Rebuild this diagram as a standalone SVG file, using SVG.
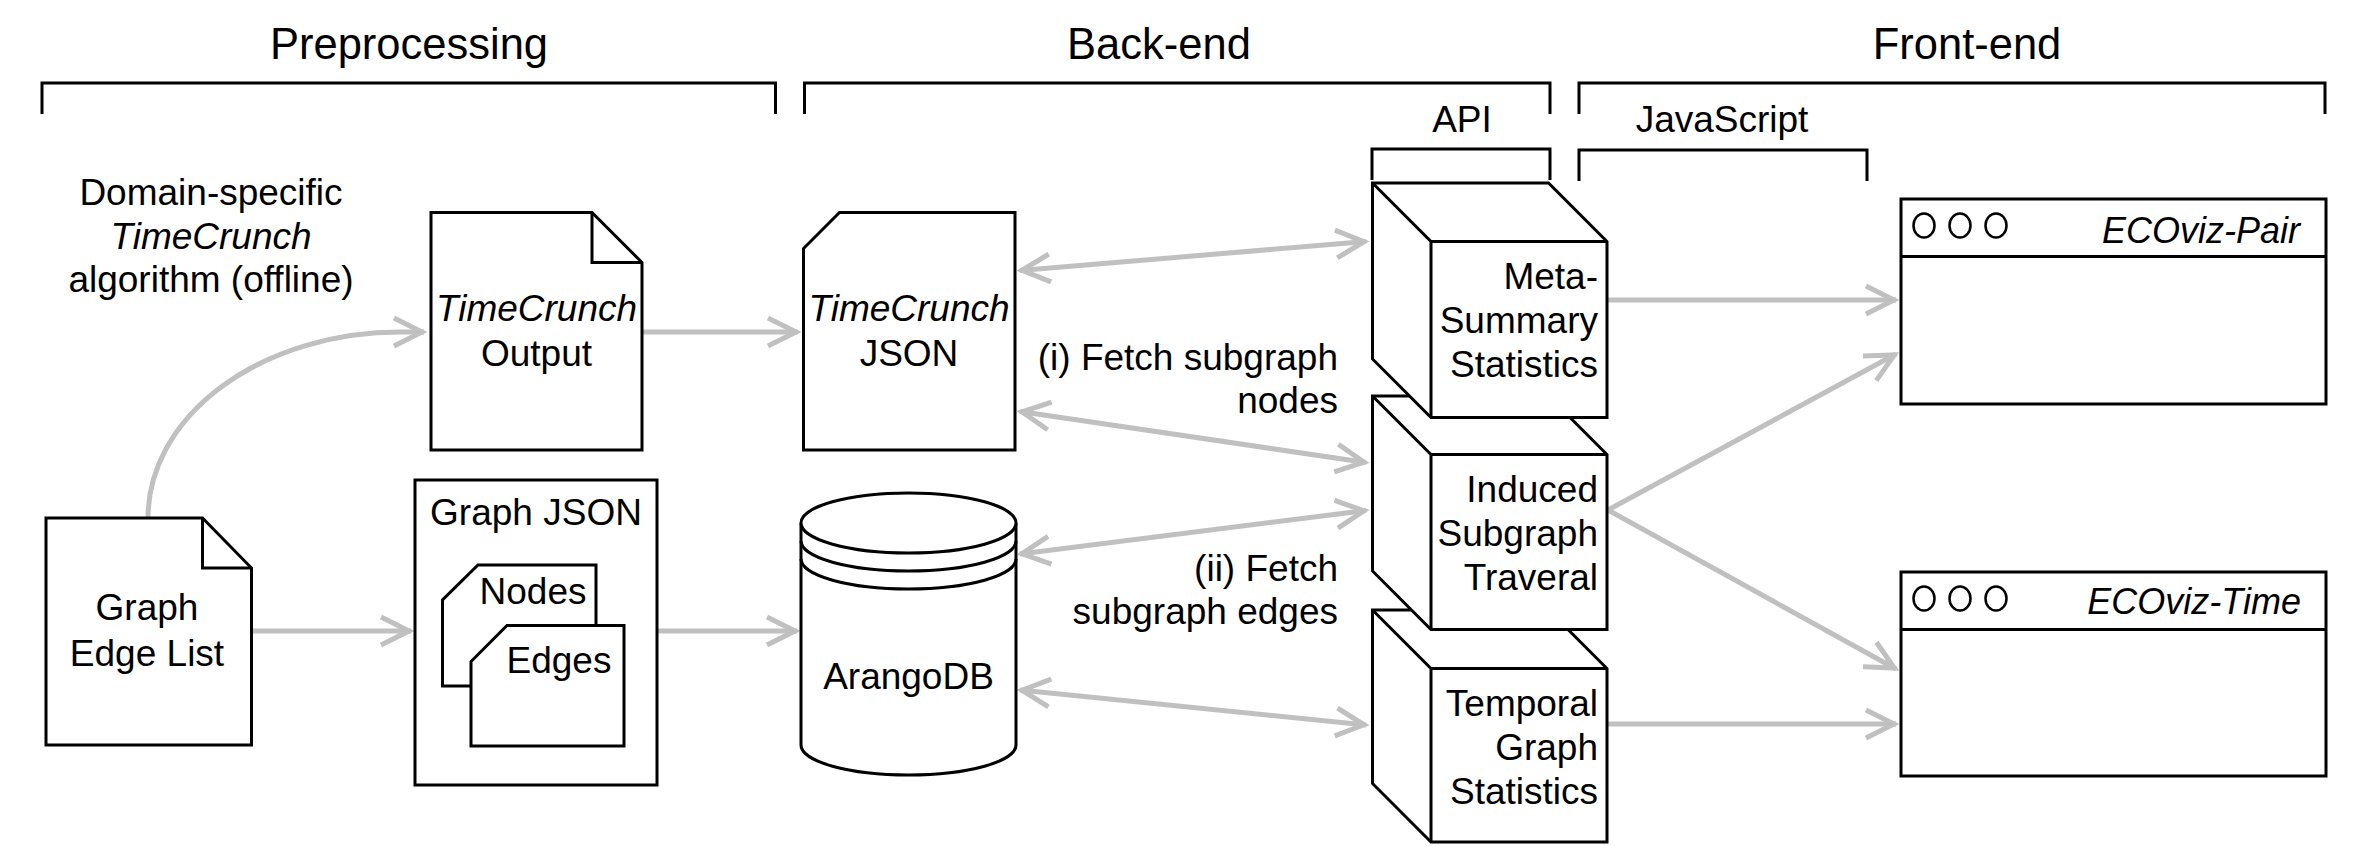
<svg xmlns="http://www.w3.org/2000/svg" width="2365" height="846" viewBox="0 0 2365 846">
<defs>
<style>
.t{font-family:"Liberation Sans",Arial,Helvetica,sans-serif;font-size:37px;fill:#000}
.h{font-size:43.5px}
.i{font-style:italic}
.m{text-anchor:middle}
.e{text-anchor:end}
.n{fill:#fff;stroke:#000;stroke-width:3;stroke-linejoin:miter}
.ln{fill:none;stroke:#000;stroke-width:3}
.dot{fill:none;stroke:#000;stroke-width:2.5}
.br{fill:none;stroke:#000;stroke-width:3}
.c{fill:none;stroke:#c0c0c0;stroke-width:5}
</style>
<marker id="ah" markerUnits="userSpaceOnUse" viewBox="-40 -20 44 40" markerWidth="44" markerHeight="40" refX="0" refY="0" orient="auto-start-reverse" overflow="visible">
<path d="M-30,-14 L-2,0 L-30,14" fill="none" stroke="#c0c0c0" stroke-width="5"/>
</marker>
</defs>
<rect x="0" y="0" width="2365" height="846" fill="#fff"/>

<!-- section brackets -->
<g id="sections">
<path class="br" d="M42,114 V83 H775.5 V114"/>
<path class="br" d="M804.5,114 V83 H1550 V114"/>
<path class="br" d="M1579,114 V83 H2325 V114"/>
<path class="br" d="M1372,180 V149 H1550 V180"/>
<path class="br" d="M1579,181 V150 H1867 V181"/>
<text class="t h m" x="409" y="59">Preprocessing</text>
<text class="t h m" x="1159" y="59">Back-end</text>
<text class="t h m" x="1967" y="59">Front-end</text>
<text class="t m" x="1462" y="131.5">API</text>
<text class="t m" x="1722" y="131.5">JavaScript</text>
</g>

<!-- connectors -->
<g id="connectors">
<path class="c" d="M148,518 A252,186 0 0 1 400,332 L424,332" marker-end="url(#ah)"/>
<line class="c" x1="642" y1="332" x2="798" y2="332" marker-end="url(#ah)"/>
<line class="c" x1="252" y1="631" x2="411" y2="631" marker-end="url(#ah)"/>
<line class="c" x1="657" y1="631" x2="797" y2="631" marker-end="url(#ah)"/>
<line class="c" x1="1020" y1="270.5" x2="1366" y2="241.5" marker-start="url(#ah)" marker-end="url(#ah)"/>
<line class="c" x1="1020" y1="411.5" x2="1366" y2="462.5" marker-start="url(#ah)" marker-end="url(#ah)"/>
<line class="c" x1="1020" y1="554" x2="1366" y2="510.5" marker-start="url(#ah)" marker-end="url(#ah)"/>
<line class="c" x1="1020" y1="690" x2="1366" y2="725" marker-start="url(#ah)" marker-end="url(#ah)"/>
<line class="c" x1="1608" y1="300" x2="1896" y2="300" marker-end="url(#ah)"/>
<line class="c" x1="1608" y1="510" x2="1896" y2="354" marker-end="url(#ah)"/>
<line class="c" x1="1608" y1="510" x2="1896" y2="669" marker-end="url(#ah)"/>
<line class="c" x1="1608" y1="724" x2="1896" y2="724" marker-end="url(#ah)"/>
</g>

<!-- offline algorithm caption -->
<g id="algorithm">
<text class="t m" x="211" y="205">Domain-specific</text>
<text class="t m i" x="211" y="249">TimeCrunch</text>
<text class="t m" x="211" y="292">algorithm (offline)</text>
</g>

<g id="edge-list">
<path class="n" d="M46,518 H202.5 L251.5,568 V745 H46 Z"/>
<path class="ln" d="M202.5,518 V568 H251.5"/>
<text class="t m" x="147" y="620">Graph</text>
<text class="t m" x="147" y="665.5">Edge List</text>
</g>

<g id="tc-output">
<path class="n" d="M431,212.5 H592 L642,262.5 V450 H431 Z"/>
<path class="ln" d="M592,212.5 V262.5 H642"/>
<text class="t m i" x="536.5" y="321">TimeCrunch</text>
<text class="t m" x="536.5" y="366">Output</text>
</g>

<g id="graph-json">
<rect class="n" x="415" y="480" width="242" height="305"/>
<text class="t m" x="536" y="524.5">Graph JSON</text>
<path class="n" d="M478,565 H596 V686 H442.5 V600 Z"/>
<text class="t m" x="533" y="604">Nodes</text>
<path class="n" d="M507,625.5 H624 V746 H471 V661.5 Z"/>
<text class="t m" x="559" y="673">Edges</text>
</g>

<g id="tc-json">
<path class="n" d="M839.5,212.5 H1015 V450 H803.5 V248.5 Z"/>
<text class="t m i" x="909" y="321">TimeCrunch</text>
<text class="t m" x="909" y="366">JSON</text>
</g>

<g id="arangodb">
<path class="n" d="M801,523 V745 A107.5,30 0 0 0 1016,745 V523"/>
<ellipse class="n" cx="908.5" cy="523" rx="107.5" ry="30"/>
<path class="ln" d="M801,541 A107.5,30 0 0 0 1016,541 M801,559 A107.5,30 0 0 0 1016,559"/>
<text class="t m" x="908.5" y="689">ArangoDB</text>
</g>

<g id="fetch-labels">
<text class="t e" x="1338" y="369.5">(i) Fetch subgraph</text>
<text class="t e" x="1338" y="413">nodes</text>
<text class="t e" x="1338" y="581">(ii) Fetch</text>
<text class="t e" x="1338" y="624">subgraph edges</text>
</g>

<g id="temporal-stats">
<path class="n" d="M1372.5,610 H1548.5 L1607,668.5 V842 H1431 L1372.5,783.5 Z"/>
<path class="ln" d="M1372.5,610 L1431,668.5 H1607 M1431,668.5 V842"/>
<text class="t e" x="1598" y="715.5">Temporal</text>
<text class="t e" x="1598" y="759.5">Graph</text>
<text class="t e" x="1598" y="803.5">Statistics</text>
</g>

<g id="induced-subgraph">
<path class="n" d="M1372.5,396 H1548.5 L1607,454.5 V629.5 H1431 L1372.5,571 Z"/>
<path class="ln" d="M1372.5,396 L1431,454.5 H1607 M1431,454.5 V629.5"/>
<text class="t e" x="1598" y="501.5">Induced</text>
<text class="t e" x="1598" y="545.5">Subgraph</text>
<text class="t e" x="1598" y="589.5">Traveral</text>
</g>

<g id="meta-summary">
<path class="n" d="M1372.5,183 H1548.5 L1607,241.5 V417.5 H1431 L1372.5,359 Z"/>
<path class="ln" d="M1372.5,183 L1431,241.5 H1607 M1431,241.5 V417.5"/>
<text class="t e" x="1598" y="288.5">Meta-</text>
<text class="t e" x="1598" y="332.5">Summary</text>
<text class="t e" x="1598" y="376.5">Statistics</text>
</g>

<g id="ecoviz-pair">
<rect class="n" x="1901" y="199" width="425" height="205"/>
<line class="ln" x1="1901" y1="256.5" x2="2326" y2="256.5"/>
<ellipse class="dot" cx="1924" cy="225.5" rx="10.5" ry="12"/>
<ellipse class="dot" cx="1960" cy="225.5" rx="10.5" ry="12"/>
<ellipse class="dot" cx="1996" cy="225.5" rx="10.5" ry="12"/>
<text class="t e i" x="2300" y="243" style="font-size:36px">ECOviz-Pair</text>
</g>

<g id="ecoviz-time">
<rect class="n" x="1901" y="572" width="425" height="204"/>
<line class="ln" x1="1901" y1="629.5" x2="2326" y2="629.5"/>
<ellipse class="dot" cx="1924" cy="598.5" rx="10.5" ry="12"/>
<ellipse class="dot" cx="1960" cy="598.5" rx="10.5" ry="12"/>
<ellipse class="dot" cx="1996" cy="598.5" rx="10.5" ry="12"/>
<text class="t e i" x="2301" y="613.5" style="font-size:36px">ECOviz-Time</text>
</g>
</svg>
